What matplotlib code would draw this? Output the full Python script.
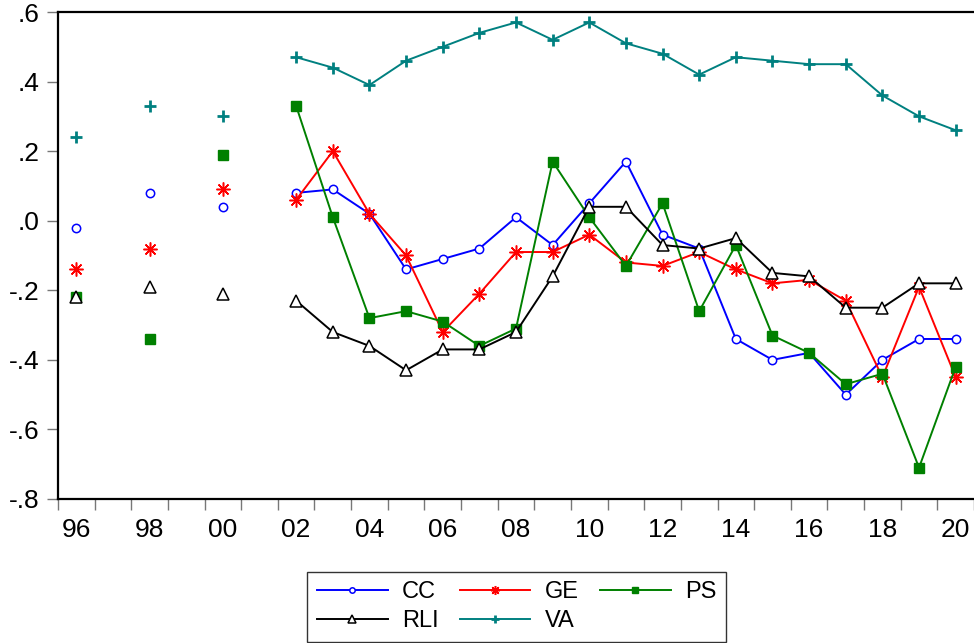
import numpy as np
import matplotlib as mpl
from matplotlib import pyplot as plt

mpl.rc('font', family=['Liberation Sans', 'DejaVu Sans'])

nan = np.nan

# years 1996..2020, 1997/1999/2001 missing
years = list(range(1996, 2021))

cc = [-0.02, nan, 0.08, nan, 0.04, nan, 0.08, 0.09, 0.02, -0.14, -0.11, -0.08, 0.01,
      -0.07, 0.05, 0.17, -0.04, -0.08, -0.34, -0.40, -0.38, -0.50, -0.40, -0.34, -0.34]
ge = [-0.14, nan, -0.08, nan, 0.09, nan, 0.06, 0.20, 0.02, -0.10, -0.32, -0.21, -0.09,
      -0.09, -0.04, -0.12, -0.13, -0.09, -0.14, -0.18, -0.17, -0.23, -0.45, -0.19, -0.45]
ps = [-0.22, nan, -0.34, nan, 0.19, nan, 0.33, 0.01, -0.28, -0.26, -0.29, -0.36, -0.31,
      0.17, 0.01, -0.13, 0.05, -0.26, -0.07, -0.33, -0.38, -0.47, -0.44, -0.71, -0.42]
rli = [-0.22, nan, -0.19, nan, -0.21, nan, -0.23, -0.32, -0.36, -0.43, -0.37, -0.37, -0.32,
       -0.16, 0.04, 0.04, -0.07, -0.08, -0.05, -0.15, -0.16, -0.25, -0.25, -0.18, -0.18]
va = [0.24, nan, 0.33, nan, 0.30, nan, 0.47, 0.44, 0.39, 0.46, 0.50, 0.54, 0.57,
      0.52, 0.57, 0.51, 0.48, 0.42, 0.47, 0.46, 0.45, 0.45, 0.36, 0.30, 0.26]

x_labels = ['96', '98', '00', '02', '04', '06', '08', '10', '12', '14', '16', '18', '20']
y_ticks = [0.6, 0.4, 0.2, 0.0, -0.2, -0.4, -0.6, -0.8]
y_labels = ['.6', '.4', '.2', '.0', '-.2', '-.4', '-.6', '-.8']

fig = plt.figure(figsize=(9.74, 6.43), dpi=100)
ax = fig.add_axes([58 / 974, 1 - 499 / 643, 1 - 58 / 974, (499 - 12) / 643])

lw = 1.4
l_cc, = ax.plot(years, cc, color='#0000FF', lw=lw, marker='o', ms=6, mfc='white', mec='#0000FF', mew=1.1, label='CC')
l_ge, = ax.plot(years, ge, color='#FF0000', lw=lw, marker=(8, 2, 0), ms=10, mec='#FF0000', mew=1.1, label='GE')
l_ps, = ax.plot(years, ps, color='#008000', lw=lw, marker='s', ms=7, mfc='#008000', mec='#008000', label='PS')
l_rli, = ax.plot(years, rli, color='black', lw=lw, marker='^', ms=8, mfc='white', mec='black', mew=1.1, label='RLI')
l_va, = ax.plot(years, va, color='#008080', lw=lw, marker='+', ms=9, mec='#008080', mew=2, label='VA')

ax.set_xlim(1995.5, 1995.5 + 916 / 36.72)
ax.set_ylim(-0.8, 0.6)

# boundaries between years get tick marks, even years get labels
ax.set_xticks(np.arange(1995.5, 2021, 1.0))
ax.set_xticklabels([])
ax.set_xticks(list(range(1996, 2021, 2)), minor=True)
ax.set_xticklabels(x_labels, minor=True)
ax.tick_params(axis='x', which='major', length=8, width=1, color='#777777', direction='out')
ax.tick_params(axis='x', which='minor', length=0, pad=14, labelsize=19)

ax.set_yticks(y_ticks)
ax.set_yticklabels(y_labels)
ax.tick_params(axis='y', length=8, width=1, color='#777777', direction='out', pad=5, labelsize=19)

for side in ['left', 'top', 'bottom']:
    ax.spines[side].set_linewidth(1.6)
ax.spines['right'].set_visible(False)

# column-major order so rows read CC GE PS / RLI VA
handles = [l_cc, l_rli, l_ge, l_va, l_ps]
leg = fig.legend(handles, [h.get_label() for h in handles],
                 loc='upper center', bbox_to_anchor=(516.5 / 974, 1 - 572 / 643), ncol=3,
                 fontsize=17, frameon=True, fancybox=False, edgecolor='black',
                 handlelength=3.0, handletextpad=0.6, columnspacing=0.9,
                 labelspacing=0.28, borderpad=0.4, borderaxespad=0, markerscale=0.65)
leg.get_frame().set_linewidth(1.0)

fig.savefig('out.png', dpi=100)
